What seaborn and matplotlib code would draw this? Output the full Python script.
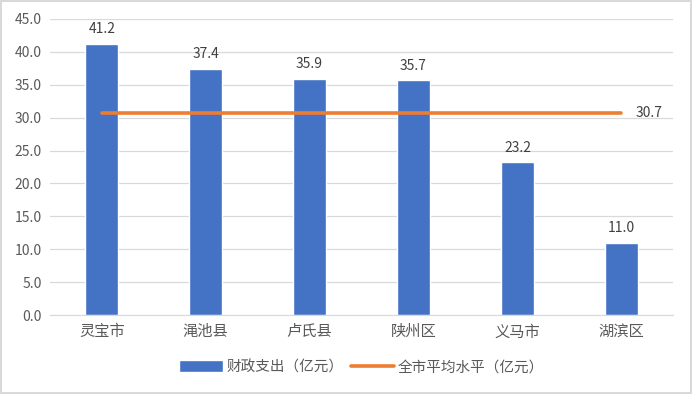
import matplotlib.pyplot as plt
import pandas as pd
import seaborn as sb

regions = ["灵宝市", "渑池县", "卢氏县", "陕州区", "义马市", "湖滨区"]
spending = [41.2, 37.4, 35.9, 35.7, 23.2, 11.0]
city_avg = [30.7, 30.7, 30.7, 30.7, 30.7, 30.7]
yticks = [0, 5, 10, 15, 20, 25, 30, 35, 40, 45]

sb.set_style("white")
plt.rcParams['font.family'] = ['Noto Sans CJK SC', 'DejaVu Sans']

df = pd.DataFrame({"region": regions, "spend": spending, "avg": city_avg})
df["pos"] = range(len(df))

fig = plt.figure(figsize=(6.92, 3.94), dpi=100)
fig.patch.set_edgecolor("#d9d9d9")
fig.patch.set_linewidth(1.5)
ax = fig.add_axes([0.072, 0.2005, 0.901, 0.7515])

grey = "#595959"
sb.barplot(data=df, x="pos", y="spend", color="#4472C4", width=0.32,
           saturation=1, native_scale=True, ax=ax, label="财政支出（亿元）")
sb.lineplot(data=df, x="pos", y="avg", color="#ED7D31", lw=2.6, ax=ax,
            label="全市平均水平（亿元）")

# bar labels
for p, v in zip(df.pos, df.spend):
    ax.text(p, v + 2.2, "%.1f" % v, ha="center", va="center", fontsize=10, color="#404040")
ax.text(df.pos.iloc[-1] + 0.27, city_avg[-1], "%.1f" % city_avg[-1], ha="center",
        va="center", fontsize=10, color="#404040")

ax.set_xlim(-0.5, len(regions) - 0.5)
ax.set_ylim(0, 45)
ax.set_yticks(yticks)
ax.set_yticklabels(["%.1f" % t for t in yticks], fontsize=10, color=grey)
ax.set_xticks(df.pos)
ax.set_xticklabels(regions, fontsize=11, color=grey)
ax.tick_params(axis="both", length=0, pad=6)
ax.yaxis.grid(True, color="#d9d9d9", lw=0.9)
ax.set_axisbelow(True)
ax.set_xlabel("")
ax.set_ylabel("")
for s in ["left", "right", "top"]:
    ax.spines[s].set_visible(False)
ax.spines["bottom"].set_color("#d9d9d9")

handles, labels = ax.get_legend_handles_labels()
order = [labels.index("财政支出（亿元）"), labels.index("全市平均水平（亿元）")]
ax.legend([handles[i] for i in order], [labels[i] for i in order],
          loc="center", bbox_to_anchor=(0.5, -0.176), ncol=2, frameon=False,
          fontsize=10.5, labelcolor=grey, handlelength=3.0, handleheight=0.9,
          handletextpad=0.25, columnspacing=0.5)

plt.savefig("out.png", dpi=100, edgecolor=fig.get_edgecolor())
